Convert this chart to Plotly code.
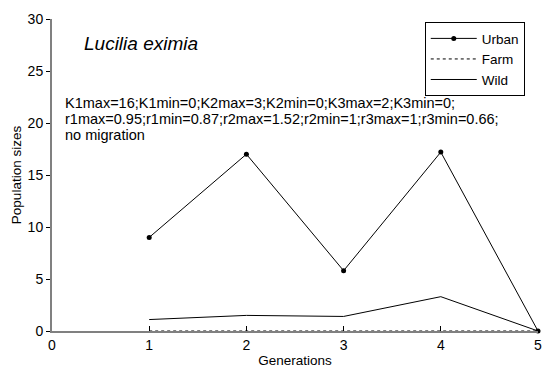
import plotly.graph_objects as go

generations = [1, 2, 3, 4, 5]
urban = [9.0, 17.0, 5.8, 17.2, 0.0]
farm = [0.0, 0.0, 0.0, 0.0, 0.0]
wild = [1.1, 1.5, 1.4, 3.3, 0.0]

species = "Lucilia eximia"
params = ["K1max=16;K1min=0;K2max=3;K2min=0;K3max=2;K3min=0;",
          "r1max=0.95;r1min=0.87;r2max=1.52;r2min=1;r3max=1;r3min=0.66;",
          "no migration"]

fnt = "Liberation Sans, Arial, sans-serif"
fig = go.Figure()
fig.add_trace(go.Scatter(x=generations, y=farm, name="Farm", mode="lines",
                         line=dict(color="black", width=1, dash="3px,3px"), cliponaxis=False,
                         legendrank=2))
fig.add_trace(go.Scatter(x=generations, y=wild, name="Wild", mode="lines",
                         line=dict(color="black", width=1), cliponaxis=False, legendrank=3))
fig.add_trace(go.Scatter(x=generations, y=urban, name="Urban", mode="lines+markers",
                         line=dict(color="black", width=1), marker=dict(size=5, color="black"),
                         cliponaxis=False, legendrank=1))

annotations = [
    dict(text=species, x=0.062, y=0.92, xref="paper", yref="paper", xanchor="left",
         yanchor="middle", showarrow=False, font=dict(size=19, style="italic")),
]
for i, line in enumerate(params):
    annotations.append(dict(text=line, x=0.022, y=0.73, yshift=-16 * i, xref="paper", yref="paper",
                            xanchor="left", yanchor="middle", align="left", showarrow=False,
                            font=dict(size=14.5)))

fig.update_layout(
    width=545, height=372,
    margin=dict(l=52, r=7, t=19, b=41),
    paper_bgcolor="white", plot_bgcolor="white",
    font=dict(family=fnt, size=13, color="black"),
    showlegend=True,
    legend=dict(x=0.767, y=0.99, xanchor="left", yanchor="top",
                bordercolor="black", borderwidth=1, bgcolor="white",
                font=dict(size=13.5), itemwidth=46, tracegroupgap=0, traceorder="normal"),
    xaxis=dict(range=[0, 5], tickvals=[0, 1, 2, 3, 4, 5], ticks="inside", ticklen=5,
               tickcolor="black", automargin=False, ticklabeloverflow="allow",
               showline=True, linecolor="gray", linewidth=2, showgrid=False, zeroline=False,
               tickfont=dict(size=14), title=dict(text="Generations", font=dict(size=13.5), standoff=4)),
    yaxis=dict(range=[0, 30], tickvals=[0, 5, 10, 15, 20, 25, 30], ticks="outside", ticklen=4,
               tickcolor="black", automargin=False, ticklabeloverflow="allow",
               showline=True, linecolor="gray", linewidth=2, showgrid=False, zeroline=False,
               tickfont=dict(size=14), title=dict(text="Population sizes", font=dict(size=13.5), standoff=3)),
    annotations=annotations,
)
fig.write_html("out.html", config={"displayModeBar": False},
               post_script="document.body.style.margin='0';document.body.style.padding='0';document.body.style.overflow='hidden';")
